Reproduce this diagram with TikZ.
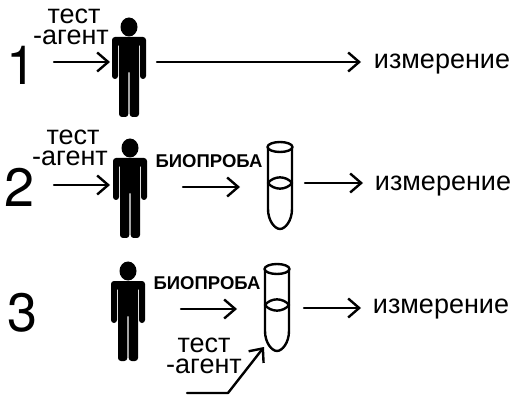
\documentclass[tikz,border=0pt]{standalone}
\usepackage{fontspec}
\setmainfont{Liberation Sans}
\newfontfamily\numfont{TeX Gyre Heros}
\usetikzlibrary{calc}
\usetikzlibrary{arrows.meta}
\tikzstyle{every path}=[line width=2.4pt,line cap=round,line join=round]
\tikzstyle{arrow}=[-{Straight Barb[length=11pt,width=19pt]}]
\tikzstyle{body}=[fill=black,draw=none,rounded corners=3pt]
\tikzstyle{label}=[font=\fontsize{27}{21}\selectfont,align=center,inner sep=0pt]
\tikzstyle{sample}=[font=\bfseries\fontsize{18.5}{20}\selectfont,inner sep=0pt]
\tikzstyle{number}=[font=\numfont\fontsize{54}{54}\selectfont,inner sep=0pt]
\newcommand{\person}[2]{
	\fill[black] #1 ellipse[x radius=8.5, y radius=9.5];
	\fill[body] ($#1+(-17,52)$) -- ($#1+(-17,10)$) -- ($#1+(17,10)$) -- ($#1+(17,52)$) -- ($#1+(11,52)$) -- ($#1+(11,16)$) -- ($#1+(10,16)$) -- ($#1+(10,90)$) -- ($#1+(0.7,90)$) -- ($#1+(0.7,43)$) -- ($#1+(-0.7,43)$) -- ($#1+(-0.7,90)$) -- ($#1+(-10,90)$) -- ($#1+(-10,16)$) -- ($#1+(-11,16)$) -- ($#1+(-11,52)$) -- cycle;
}
\newcommand{\tube}[2]{
	\draw #1 ellipse[x radius=12.5, y radius=5];
	\draw ($#1+(-12,0)$) -- ($#1+(-12,62)$) .. controls ($#1+(-12,74)$) and ($#1+(-5,82)$) .. ($#1+(0,82)$) .. controls ($#1+(5,82)$) and ($#1+(12,74)$) .. ($#1+(12,62)$) -- ($#1+(12,0)$);
	\draw ($#1+(-12,36)$) .. controls ($#1+(-6,28.5)$) and ($#1+(6,28.5)$) .. ($#1+(12,36)$) .. controls ($#1+(6,43.5)$) and ($#1+(-6,43.5)$) .. cycle;
}

\begin{document}
\begin{tikzpicture}[x=1pt,y=-1pt]
		\useasboundingbox (0,0) rectangle (520,401);

		\person{(129,27)}{P1};
		\person{(130,148)}{P2};
		\person{(128,271)}{P3};
		\tube{(280,147)}{T2};
		\tube{(277,269)}{T3};

		\node[number] at (22,65) (num1) {1};
		\node[number] at (20,187) (num2) {2};
		\node[number] at (23,313) (num3) {3};

		\node[label] at (71,27) (agent1) {\hspace{6pt}тест\\-агент};
		\node[label] at (70,148) (agent2) {\hspace{6pt}тест\\-агент};
		\node[label] at (204,356) (agent3) {тест\\-агент};

		\node[sample] at (209,161) (sample2) {БИОПРОБА};
		\node[sample] at (207,283) (sample3) {БИОПРОБА};

		\node[label] at (442,64) (meas1) {измерение};
		\node[label] at (443,186) (meas2) {измерение};
		\node[label] at (441,309) (meas3) {измерение};

		\coordinate (a1) at (54,62);
		\coordinate (a1end) at (110,62);
		\coordinate (b1) at (157,62);
		\coordinate (c1) at (361,62);
		\draw[arrow] (a1) -- (a1end);
		\draw[arrow] (b1) -- (c1);

		\coordinate (a2) at (54,185);
		\coordinate (a2end) at (110,185);
		\coordinate (b2) at (183,187);
		\coordinate (c2) at (240,187);
		\coordinate (d2) at (305,183);
		\coordinate (e2) at (363,183);
		\draw[arrow] (a2) -- (a2end);
		\draw[arrow] (b2) -- (c2);
		\draw[arrow] (d2) -- (e2);

		\coordinate (b3) at (181,309);
		\coordinate (c3) at (237,309);
		\coordinate (d3) at (304,308);
		\coordinate (e3) at (361,308);
		\coordinate (f3) at (187,393);
		\coordinate (g3) at (228,393);
		\coordinate (h3) at (264,347);
		\draw[arrow] (b3) -- (c3);
		\draw[arrow] (d3) -- (e3);
		\draw[arrow] (f3) -- (g3) -- (h3);

	\end{tikzpicture}
\end{document}
